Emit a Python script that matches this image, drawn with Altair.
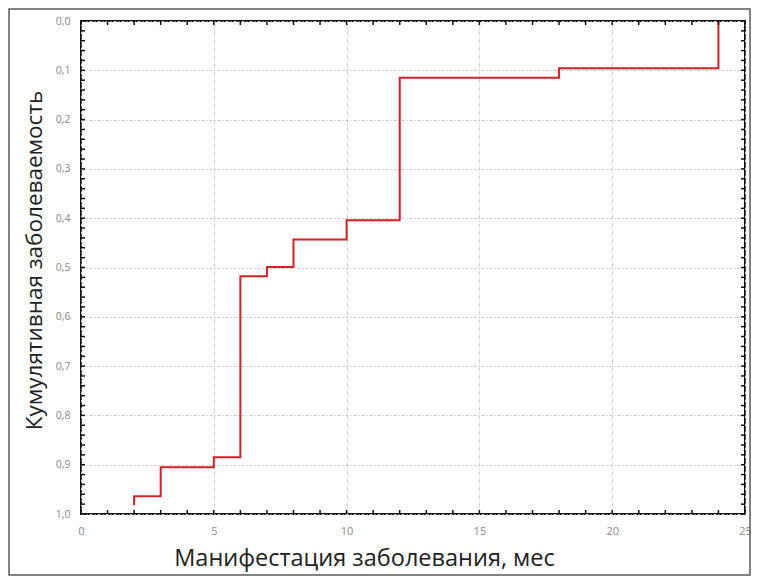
import altair as alt
import pandas as pd

# Step points (months, cumulative incidence)
months = [2, 2, 3, 5, 6, 7, 8, 10, 12, 18, 24]
incidence = [0.982, 0.964, 0.905, 0.885, 0.518, 0.499, 0.443, 0.404, 0.115, 0.096, 0.0]

x_major = [0, 5, 10, 15, 20, 25]
y_major = [0.0, 0.1, 0.2, 0.3, 0.4, 0.5, 0.6, 0.7, 0.8, 0.9, 1.0]
x_minor = list(range(0, 26))
y_minor = [round(i * 0.02, 2) for i in range(0, 51)]

x_title = "Манифестация заболевания, мес"
y_title = "Кумулятивная заболеваемость"

W, H = 664, 493
FONT = "Open Sans"

df = pd.DataFrame({"x": months, "y": incidence, "order": list(range(len(months)))})
xm = pd.DataFrame({"x": x_minor})
ym = pd.DataFrame({"y": y_minor})

xscale = alt.Scale(domain=[0, 25], nice=False, zero=False)
yscale = alt.Scale(domain=[0, 1], reverse=True, nice=False)

line = alt.Chart(df).mark_line(
    interpolate="step-after", color="#d42128", strokeWidth=2
).encode(
    x=alt.X("x:Q", scale=xscale, title=x_title, axis=alt.Axis(
        values=x_major, grid=True, ticks=False, domain=False,
        labelPadding=11, labelFontSize=11, labelColor="#8a8a8a", labelFont=FONT,
        titleFont=FONT, titleFontSize=23.5, titleFontWeight="normal", titleColor="#222222",
        titleX=283, titleY=51, titleBaseline="alphabetic", titleAnchor="middle",
        labelFlush=False,
    )),
    y=alt.Y("y:Q", scale=yscale, title=y_title, axis=alt.Axis(
        values=y_major, grid=True, ticks=False, domain=False,
        labelExpr="replace(format(datum.value, '.1f'), '.', ',')",
        labelPadding=11, labelFontSize=10.5, labelColor="#8a8a8a", labelFont=FONT,
        titleFont=FONT, titleFontSize=22.5, titleFontWeight="normal", titleColor="#222222",
        titleX=-40, titleY=239, titleBaseline="alphabetic", titleAngle=-90,
        labelFlush=False,
    )),
    order="order:Q",
)

tick_color = "#111111"
xt_bottom = alt.Chart(xm).mark_rule(color=tick_color, strokeWidth=1.5).encode(
    x=alt.X("x:Q", scale=xscale, title=x_title), y=alt.value(H), y2=alt.value(H - 4))
xt_top = alt.Chart(xm).mark_rule(color=tick_color, strokeWidth=1.5).encode(
    x=alt.X("x:Q", scale=xscale, title=x_title), y=alt.value(0), y2=alt.value(4))
yt_left = alt.Chart(ym).mark_rule(color=tick_color, strokeWidth=1.5).encode(
    y=alt.Y("y:Q", scale=yscale, title=y_title), x=alt.value(0), x2=alt.value(4))
yt_right = alt.Chart(ym).mark_rule(color=tick_color, strokeWidth=1.5).encode(
    y=alt.Y("y:Q", scale=yscale, title=y_title), x=alt.value(W - 4), x2=alt.value(W))

border = alt.Chart(pd.DataFrame({"a": [0]})).mark_rect(
    fill="transparent", stroke="#5a5a5a", strokeWidth=1.5
).encode(x=alt.value(-72), x2=alt.value(W + 5), y=alt.value(-12), y2=alt.value(H + 61))

chart = alt.layer(line, xt_bottom, xt_top, yt_left, yt_right, border).properties(
    width=W, height=H,
    padding={"left": 73, "top": 13, "right": 6, "bottom": 62},
    autosize="none",
    background="white",
).configure_view(
    stroke="#111111", strokeWidth=2
).configure_axis(
    gridColor="#d2c3bb", gridDash=[3, 2, 1, 2], gridWidth=1
)

chart.save("out.html", embed_options={"renderer": "svg", "actions": False})
